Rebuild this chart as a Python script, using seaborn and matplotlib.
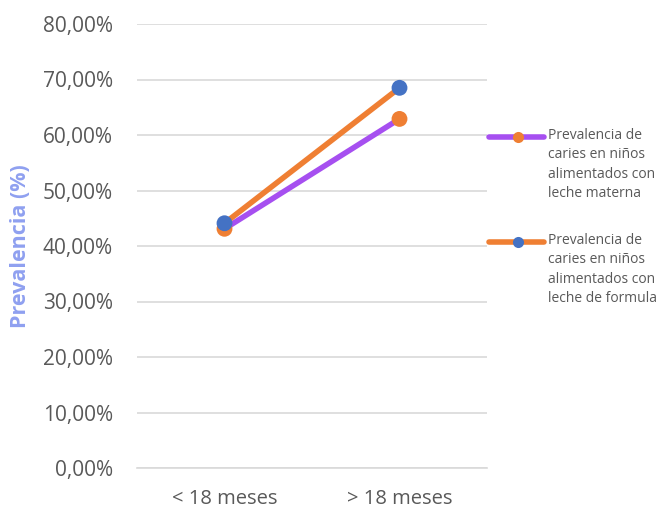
import matplotlib
matplotlib.use("Agg")
import matplotlib.pyplot as plt
import seaborn as sns
import pandas as pd
from matplotlib.ticker import FuncFormatter
from matplotlib.lines import Line2D

categorias = ["< 18 meses", "> 18 meses"]
materna = [0.431, 0.629]
formula = [0.441, 0.685]
series = [
    "Prevalencia de\ncaries en niños\nalimentados con\nleche materna",
    "Prevalencia de\ncaries en niños\nalimentados con\nleche de formula",
]

df = pd.DataFrame({
    "edad": categorias * 2,
    "x": [0, 1] * 2,
    "valor": materna + formula,
    "serie": [series[0]] * 2 + [series[1]] * 2,
})

sns.set_theme(style="white")
plt.rcParams["font.family"] = ["Open Sans", "DejaVu Sans"]

W, H = 659, 509
fig = plt.figure(figsize=(W / 100, H / 100), dpi=100)
ax = fig.add_axes([137 / W, 1 - 468 / H, 350 / W, 444 / H])

line_cols = {series[0]: "#a64ff0", series[1]: "#ef7f33"}
mark_cols = {series[0]: "#ef7f33", series[1]: "#4472c4"}

sns.lineplot(data=df, x="x", y="valor", hue="serie", palette=line_cols,
             linewidth=4, legend=False, ax=ax, zorder=3)
for s in series:
    sub = df[df["serie"] == s]
    sns.scatterplot(data=sub, x="x", y="valor", color=mark_cols[s], s=130,
                    edgecolor="none", legend=False, ax=ax, zorder=4)

ax.set_xlim(-0.5, 1.5)
ax.set_ylim(0, 0.8)
ax.set_yticks([i / 10 for i in range(9)])
ax.yaxis.set_major_formatter(FuncFormatter(lambda v, p: f"{v*100:.2f}%".replace(".", ",")))
ax.set_xticks([0, 1])
ax.set_xticklabels(categorias)
ax.grid(axis="y", color="#d9d9d9", linewidth=1.2)
ax.set_axisbelow(True)
for side in ["left", "right", "top"]:
    ax.spines[side].set_visible(False)
ax.spines["bottom"].set_color("#d9d9d9")
ax.spines["bottom"].set_linewidth(1.2)
ax.tick_params(axis="both", colors="#595959", labelsize=14.5, length=0)
ax.tick_params(axis="y", labelsize=15, pad=17.5)
ax.tick_params(axis="x", pad=15)
ax.set_xlabel("")
ax.set_ylabel("Prevalencia (%)", color="#8fa0f0", fontsize=15.5, fontweight="bold")
ax.yaxis.set_label_coords(-106 / 350, 0.5)

# legend: handle aligned with the first text line of each entry
for s, ytop in zip(series, [137, 242]):
    fy = 1 - ytop / H
    fig.add_artist(Line2D([489 / W, 544 / W], [fy, fy], transform=fig.transFigure,
                          color=line_cols[s], linewidth=4, solid_capstyle="round"))
    fig.add_artist(Line2D([518 / W], [fy], transform=fig.transFigure, marker="o",
                          markersize=8, markerfacecolor=mark_cols[s],
                          markeredgecolor="none", linestyle="none"))
    fig.text(548 / W, 1 - (ytop - 9) / H, s, ha="left", va="top", fontsize=10,
             color="#595959", linespacing=1.4, transform=fig.transFigure)

fig.savefig("out.png", dpi=100)
